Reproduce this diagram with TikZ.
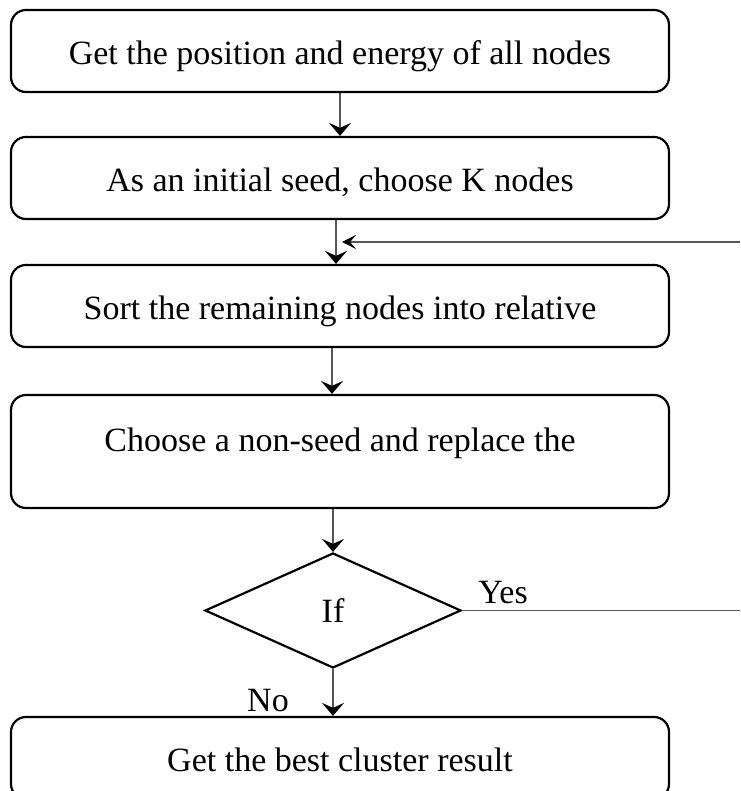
\documentclass[tikz,border=0pt]{standalone}
\usepackage{fontspec}
\setmainfont{Liberation Serif}
\usepackage{tikz}
\usetikzlibrary{arrows.meta,positioning,shapes.geometric,calc}
\definecolor{flowLine}{HTML}{555555}

\begin{document}
\begin{tikzpicture}[x=0.5pt,y=0.5pt,
  stepbox/.style={draw,line width=1.1pt,rounded corners=7.5pt,minimum width=329pt,minimum height=41pt,text height=14pt,text depth=0pt,font=\fontsize{17}{20}\selectfont},
  testbox/.style={draw,diamond,line width=1.1pt,aspect=2.2,inner sep=0pt,minimum width=128pt,minimum height=57.5pt,font=\fontsize{17}{20}\selectfont},
  flow/.style={-{Stealth[length=6.5pt,width=11pt,inset=2.5pt,color=black]},line width=0.65pt,flowLine}]
\useasboundingbox (0,0) rectangle (740,791);
% process boxes
\node[stepbox] (pos) at (340,740) {Get the position and energy of all nodes};
\node[stepbox] (seed) at (340,613) {As an initial seed, choose K nodes};
\node[stepbox] (sort) at (340,485) {Sort the remaining nodes into relative};
\node[stepbox,minimum height=56.5pt,text height=10pt,text depth=10pt] (choose) at (340,339.5) {Choose a non-seed and replace the};
\node[testbox] (if) at (333,180.5) {If};
\node[stepbox] (best) at (340,33) {Get the best cluster result};
% main flow
\draw[flow] (pos.south) -- (seed.north);
\draw[flow] ([xshift=-2pt]seed.south) -- ([xshift=-2pt]sort.north);
\draw[flow] ([xshift=-4pt]sort.south) -- ([xshift=-4pt]choose.north);
\draw[flow] (choose.south -| if.north) -- (if.north);
\draw[flow] (if.south) -- (if.south |- best.north);
% loop back
\coordinate (loopin) at (740,549);
\draw[-{Stealth[length=7pt,width=7pt,inset=3pt,color=black]},line width=0.65pt,flowLine,shorten >=1pt] (loopin) -- (loopin -| seed.south);
\draw[line width=0.65pt,flowLine] (if.east) -- (if.east -| loopin);
\node[font=\fontsize{17}{20}\selectfont] (yes) at (503,198) {Yes};
\node[font=\fontsize{17}{20}\selectfont] (no) at (268,90) {No};
\end{tikzpicture}
\end{document}
